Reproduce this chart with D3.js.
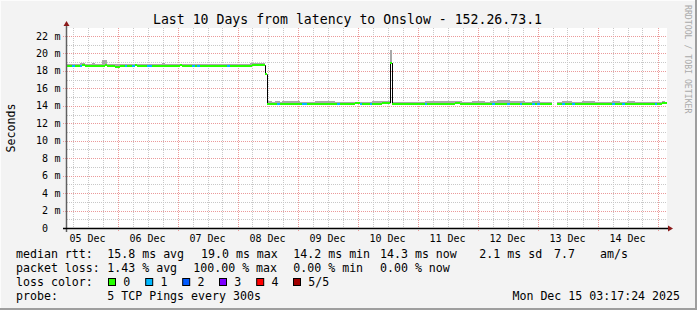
<!DOCTYPE html>
<html><head><meta charset="utf-8">
<script src="https://cdn.jsdelivr.net/npm/d3@7"></script>
<style>
html,body{margin:0;padding:0;background:#f3f3f3;}
svg{display:block;font-family:"DejaVu Sans Mono",monospace;}
</style></head>
<body><svg id="chart" width="697" height="310"></svg>
<script>
// ---------- DATA ----------
const title = "Last 10 Days from latency to Onslow - 152.26.73.1";
const yLabel = "Seconds";
const sideText = "RRDTOOL / TOBI OETIKER";
const startTime = new Date(Date.UTC(2025, 11, 5, 3, 48));   // left edge of plot
const endTime   = new Date(Date.UTC(2025, 11, 15, 3, 48));  // right edge of plot
const yMaxMs = 22.92;
const yTickValues = [0,2,4,6,8,10,12,14,16,18,20,22];

// hourly median rtt (ms), 240 bins; null = no data
const median = [
18.6,18.6,18.55,18.6,18.6,18.6,18.65,18.6,18.6,18.6,
18.55,18.6,18.6,18.6,18.6,18.65,18.6,18.6,18.55,18.5,
18.5,18.55,18.6,18.6,18.6,18.6,18.6,18.65,18.6,18.6,
18.6,18.6,18.6,18.6,18.55,18.6,18.6,18.6,18.6,18.6,
18.6,18.6,18.6,18.6,18.6,18.65,18.6,18.6,18.6,18.6,
18.6,18.6,18.6,18.6,18.6,18.6,18.6,18.55,18.6,18.6,
18.6,18.6,18.6,18.6,18.6,18.6,18.6,18.6,18.6,18.6,
18.6,18.6,18.6,18.6,18.65,18.7,18.7,18.7,18.65,17.6,
14.25,14.25,14.25,14.2,14.25,14.25,14.25,14.25,14.25,14.25,
14.25,14.25,14.25,14.25,14.2,14.25,14.25,14.25,14.25,14.25,
14.25,14.25,14.2,14.2,14.25,14.25,14.25,14.25,14.2,14.25,
14.25,14.25,14.25,14.25,14.25,14.3,14.3,14.25,14.25,14.25,
14.25,14.25,14.25,14.25,14.25,14.25,14.3,14.3,14.3,18.9,
14.25,14.25,14.25,14.25,14.25,14.25,14.25,14.25,14.25,14.25,
14.25,14.25,14.25,14.25,14.25,14.25,14.25,14.25,14.25,14.25,
14.25,14.25,14.25,14.25,14.25,14.3,14.3,14.25,14.25,14.25,
14.25,14.25,14.25,14.25,14.25,14.25,14.25,14.25,14.25,14.2,
14.2,14.25,14.25,14.25,14.25,14.25,14.25,14.25,14.25,14.25,
14.25,14.25,14.25,14.25,14.25,14.25,14.25,14.25,14.25,14.25,
14.25,14.25,14.25,14.25,null,null,14.2,14.25,14.25,14.25,
14.25,14.25,14.25,14.25,14.25,14.25,14.25,14.25,14.25,14.25,
14.25,14.25,14.25,14.2,14.25,14.25,14.25,14.25,14.25,14.25,
14.25,14.25,14.25,14.25,14.25,14.25,14.25,14.25,14.25,14.25,
14.25,14.25,14.25,14.25,14.25,14.25,14.25,14.25,14.3,14.3
];
// hourly max ping (ms) – top of the smoke
const smokeMax = [
18.75,18.75,18.75,18.75,18.75,18.95,18.95,18.75,18.75,18.75,
18.9,18.75,18.85,18.75,19.25,19.25,18.75,18.75,18.75,18.75,
18.8,18.75,18.75,18.75,18.75,18.75,18.85,18.75,18.75,18.75,
18.8,18.75,18.75,18.75,18.75,18.75,18.75,18.75,18.9,18.75,
18.75,18.75,18.75,18.75,18.75,18.75,18.85,18.85,18.85,18.75,
18.75,18.75,18.75,18.75,18.75,18.75,18.75,18.75,18.85,18.85,
18.75,18.75,18.75,18.75,18.75,18.75,18.8,18.75,18.75,18.75,
18.75,18.75,18.75,18.95,18.95,18.95,18.95,18.95,18.95,17.7,
14.5,14.5,14.45,14.5,14.5,14.4,14.5,14.5,14.5,14.6,
14.6,14.6,14.6,14.4,14.4,14.4,14.4,14.4,14.4,14.5,
14.5,14.5,14.5,14.5,14.5,14.5,14.5,14.4,14.4,14.4,
14.4,14.4,14.4,14.4,14.4,14.4,14.4,14.4,14.4,14.4,
14.4,14.4,14.5,14.5,14.5,14.5,14.5,14.5,14.5,20.4,
14.45,14.4,14.45,14.45,14.4,14.45,14.4,14.45,14.45,14.4,
14.45,14.4,14.4,14.5,14.5,14.5,14.5,14.5,14.5,14.5,
14.5,14.5,14.5,14.5,14.5,14.5,14.5,14.5,14.4,14.4,
14.4,14.4,14.5,14.5,14.5,14.5,14.5,14.4,14.4,14.55,
14.55,14.55,14.65,14.65,14.65,14.65,14.65,14.5,14.5,14.5,
14.5,14.5,14.5,14.4,14.4,14.4,14.5,14.5,14.5,14.4,
14.4,14.4,14.4,14.4,null,null,14.45,14.45,14.55,14.55,
14.55,14.55,14.4,14.4,14.4,14.4,14.55,14.55,14.55,14.55,
14.55,14.4,14.4,14.4,14.4,14.4,14.4,14.4,14.5,14.5,
14.5,14.4,14.4,14.4,14.5,14.5,14.5,14.4,14.4,14.4,
14.4,14.4,14.4,14.4,14.4,14.4,14.4,14.4,14.5,14.4
];
// bins in which 1 of 5 pings was lost
const lossOneBins = [2,5,23,26,32,33,50,52,64,84,94,95,108,117,121,143,170,176,181,186,188,198,202,218,222,235];

const lossColors = ["#26ff00","#00b8ff","#0059ff","#7e00ff","#ff0000","#a00000"];
const lossLabels = ["0","1","2","3","4","5/5"];

const legendRow1 = ["median rtt:","15.8 ms avg","19.0 ms max","14.2 ms min","14.3 ms now","2.1 ms sd","7.7","am/s"];
const legendRow2 = ["packet loss:","1.43 % avg","100.00 % max","0.00 % min","0.00 % now"];
const legendRow3Label = "loss color:";
const legendRow4 = ["probe:","5 TCP Pings every 300s"];
const stampText = "Mon Dec 15 03:17:24 2025";

// ---------- LAYOUT ----------
const W = 697, H = 310;
const plot = {l: 67, r: 667, t: 28, b: 228};
const svg = d3.select("#chart");

svg.append("rect").attr("width", W).attr("height", H).attr("fill", "#f3f3f3");
// frame
svg.append("rect").attr("x",0).attr("y",0).attr("width",W).attr("height",1).attr("fill","#fcfcfc");
svg.append("rect").attr("x",0).attr("y",0).attr("width",1).attr("height",H).attr("fill","#fcfcfc");
svg.append("rect").attr("x",W-2).attr("y",0).attr("width",2).attr("height",H).attr("fill","#9e9e9e");
svg.append("rect").attr("x",0).attr("y",H-2).attr("width",W).attr("height",2).attr("fill","#9e9e9e");

svg.append("rect").attr("x", plot.l).attr("y", plot.t)
  .attr("width", plot.r - plot.l).attr("height", plot.b - plot.t).attr("fill", "#ffffff");

const x = d3.scaleUtc().domain([startTime, endTime]).range([plot.l, plot.r]);
const y = d3.scaleLinear().domain([0, yMaxMs]).range([plot.b, plot.t]);

// grid
const g = svg.append("g").attr("shape-rendering","crispEdges");
const minorY = d3.range(1, 23, 2);
g.selectAll(".hmin").data(minorY).join("line")
  .attr("x1", plot.l).attr("x2", plot.r)
  .attr("y1", d => Math.round(y(d)) + 0.5).attr("y2", d => Math.round(y(d)) + 0.5)
  .attr("stroke", "#c8c8c8").attr("stroke-dasharray", "1,1");
const minorX = d3.utcHour.every(6).range(startTime, endTime).filter(d => d.getUTCHours() !== 0);
g.selectAll(".vmin").data(minorX).join("line")
  .attr("x1", d => Math.round(x(d)) + 0.5).attr("x2", d => Math.round(x(d)) + 0.5)
  .attr("y1", plot.t).attr("y2", plot.b)
  .attr("stroke", "#c8c8c8").attr("stroke-dasharray", "1,1");
g.selectAll(".hmaj").data(yTickValues.filter(d => d > 0)).join("line")
  .attr("x1", plot.l - 4).attr("x2", plot.r)
  .attr("y1", d => Math.round(y(d)) + 0.5).attr("y2", d => Math.round(y(d)) + 0.5)
  .attr("stroke", "#eb9a9a").attr("stroke-dasharray", "1,1");
const days = d3.utcDay.range(startTime, endTime);
g.selectAll(".vmaj").data(days).join("line")
  .attr("x1", d => Math.round(x(d)) + 0.5).attr("x2", d => Math.round(x(d)) + 0.5)
  .attr("y1", plot.t).attr("y2", plot.b + 3)
  .attr("stroke", "#eb9a9a").attr("stroke-dasharray", "1,1");

// data table
const binMs = 3600 * 1000;
const lossOf = i => lossOneBins.includes(i) ? 1 : 0;
const bins = median.map((m, i) => ({
  t0: new Date(startTime.getTime() + i * binMs),
  t1: new Date(startTime.getTime() + (i + 1) * binMs),
  med: m, max: smokeMax[i], loss: lossOf(i)
}));
const valid = bins.filter(d => d.med != null);

// smoke
svg.append("g").attr("shape-rendering","crispEdges")
  .selectAll("rect").data(valid).join("rect")
  .attr("x", d => x(d.t0)).attr("width", d => x(d.t1) - x(d.t0))
  .attr("y", d => y(d.max)).attr("height", d => Math.max(0, y(d.med) - y(d.max)))
  .attr("fill", "#a8a8a8");

// black connectors between bins
const conn = [];
for (let i = 0; i < bins.length - 1; i++) {
  if (bins[i].med != null && bins[i+1].med != null && Math.abs(bins[i].med - bins[i+1].med) > 0.3)
    conn.push({t: bins[i].t1, a: bins[i].med, b: bins[i+1].med});
}
svg.append("g").selectAll("line").data(conn).join("line")
  .attr("x1", d => Math.round(x(d.t)) + 0.5).attr("x2", d => Math.round(x(d.t)) + 0.5)
  .attr("y1", d => y(d.a)).attr("y2", d => y(d.b))
  .attr("stroke", "#000").attr("stroke-width", 1);

// median line coloured by loss
svg.append("g").attr("shape-rendering","crispEdges")
  .selectAll("rect").data(valid).join("rect")
  .attr("x", d => x(d.t0)).attr("width", d => x(d.t1) - x(d.t0))
  .attr("y", d => y(d.med) - 1).attr("height", 2)
  .attr("fill", d => lossColors[d.loss]);

// axes
svg.append("line").attr("x1", plot.l - 0.5).attr("x2", plot.l - 0.5)
  .attr("y1", plot.t - 4).attr("y2", plot.b + 4).attr("stroke", "#606060").attr("stroke-width", 1.5);
svg.append("line").attr("x1", plot.l - 4).attr("x2", plot.r + 2)
  .attr("y1", plot.b + 0.5).attr("y2", plot.b + 0.5).attr("stroke", "#000").attr("stroke-width", 1.5);
svg.append("path").attr("d", `M${plot.l-0.5},${plot.t-7} L${plot.l-3.5},${plot.t-2} L${plot.l+2.5},${plot.t-2} Z`).attr("fill", "#8b1a1a");
svg.append("path").attr("d", `M${plot.r+6},${plot.b+0.5} L${plot.r+1},${plot.b-2.5} L${plot.r+1},${plot.b+3.5} Z`).attr("fill", "#8b1a1a");

// y tick labels
const yl = svg.append("g").attr("font-size", "10px").attr("fill", "#000");
yl.selectAll("text").data(yTickValues).join("text")
  .attr("x", 48).attr("y", d => y(d) + 3.5).attr("text-anchor", "end").text(d => d);
yl.selectAll(".m").data(yTickValues.filter(d => d > 0)).join("text")
  .attr("x", 54.5).attr("y", d => y(d) + 3.5).text("m");

// x tick labels at noon
const noons = days.map(d => d3.utcHour.offset(d, -12));
svg.append("g").attr("font-size", "10px").attr("fill", "#000")
  .selectAll("text").data(noons).join("text")
  .attr("x", d => x(d)).attr("y", 241.5).attr("text-anchor", "middle")
  .text(d => d3.utcFormat("%d %b")(d));

// title
svg.append("text").attr("x", 347.5).attr("y", 23.5).attr("text-anchor", "middle")
  .attr("font-size", "13.2px").attr("fill", "#000").text(title);
// y label
svg.append("text").attr("transform", "translate(14.5,128) rotate(-90)").attr("text-anchor", "middle")
  .attr("font-size", "11.6px").attr("fill", "#000").text(yLabel);
// side text
svg.append("text").attr("transform", "translate(685,5) rotate(90)").attr("text-anchor", "start")
  .attr("font-size", "8.2px").attr("fill", "#aaaaaa").text(sideText);

// legend
const lg = svg.append("g").attr("font-size", "11.6px").attr("fill", "#000");
const row1X = [16, 107.3, 201, 293.3, 380, 479.3, 554, 600];
const row2X = [16, 107.3, 193.3, 293.3, 380];
lg.selectAll(".r1").data(legendRow1).join("text").attr("x", (d,i) => row1X[i]).attr("y", 257.5).text(d => d);
lg.selectAll(".r2").data(legendRow2).join("text").attr("x", (d,i) => row2X[i]).attr("y", 271.5).text(d => d);
lg.append("text").attr("x", 16).attr("y", 285.5).text(legendRow3Label);
const boxX = [108.5, 145.7, 182.7, 219.5, 256.7, 293.5];
lg.selectAll(".box").data(lossColors).join("rect")
  .attr("x", (d,i) => boxX[i]).attr("y", 278.5).attr("width", 7).attr("height", 7)
  .attr("fill", d => d).attr("stroke", "#000").attr("stroke-width", 1);
lg.selectAll(".bl").data(lossLabels).join("text")
  .attr("x", (d,i) => boxX[i] + 14.8).attr("y", 285.5).text(d => d);
lg.selectAll(".r4").data(legendRow4).join("text").attr("x", (d,i) => [16, 107.3][i]).attr("y", 299.5).text(d => d);
lg.append("text").attr("x", 680).attr("y", 299.5).attr("text-anchor", "end").text(stampText);
</script></body></html>
